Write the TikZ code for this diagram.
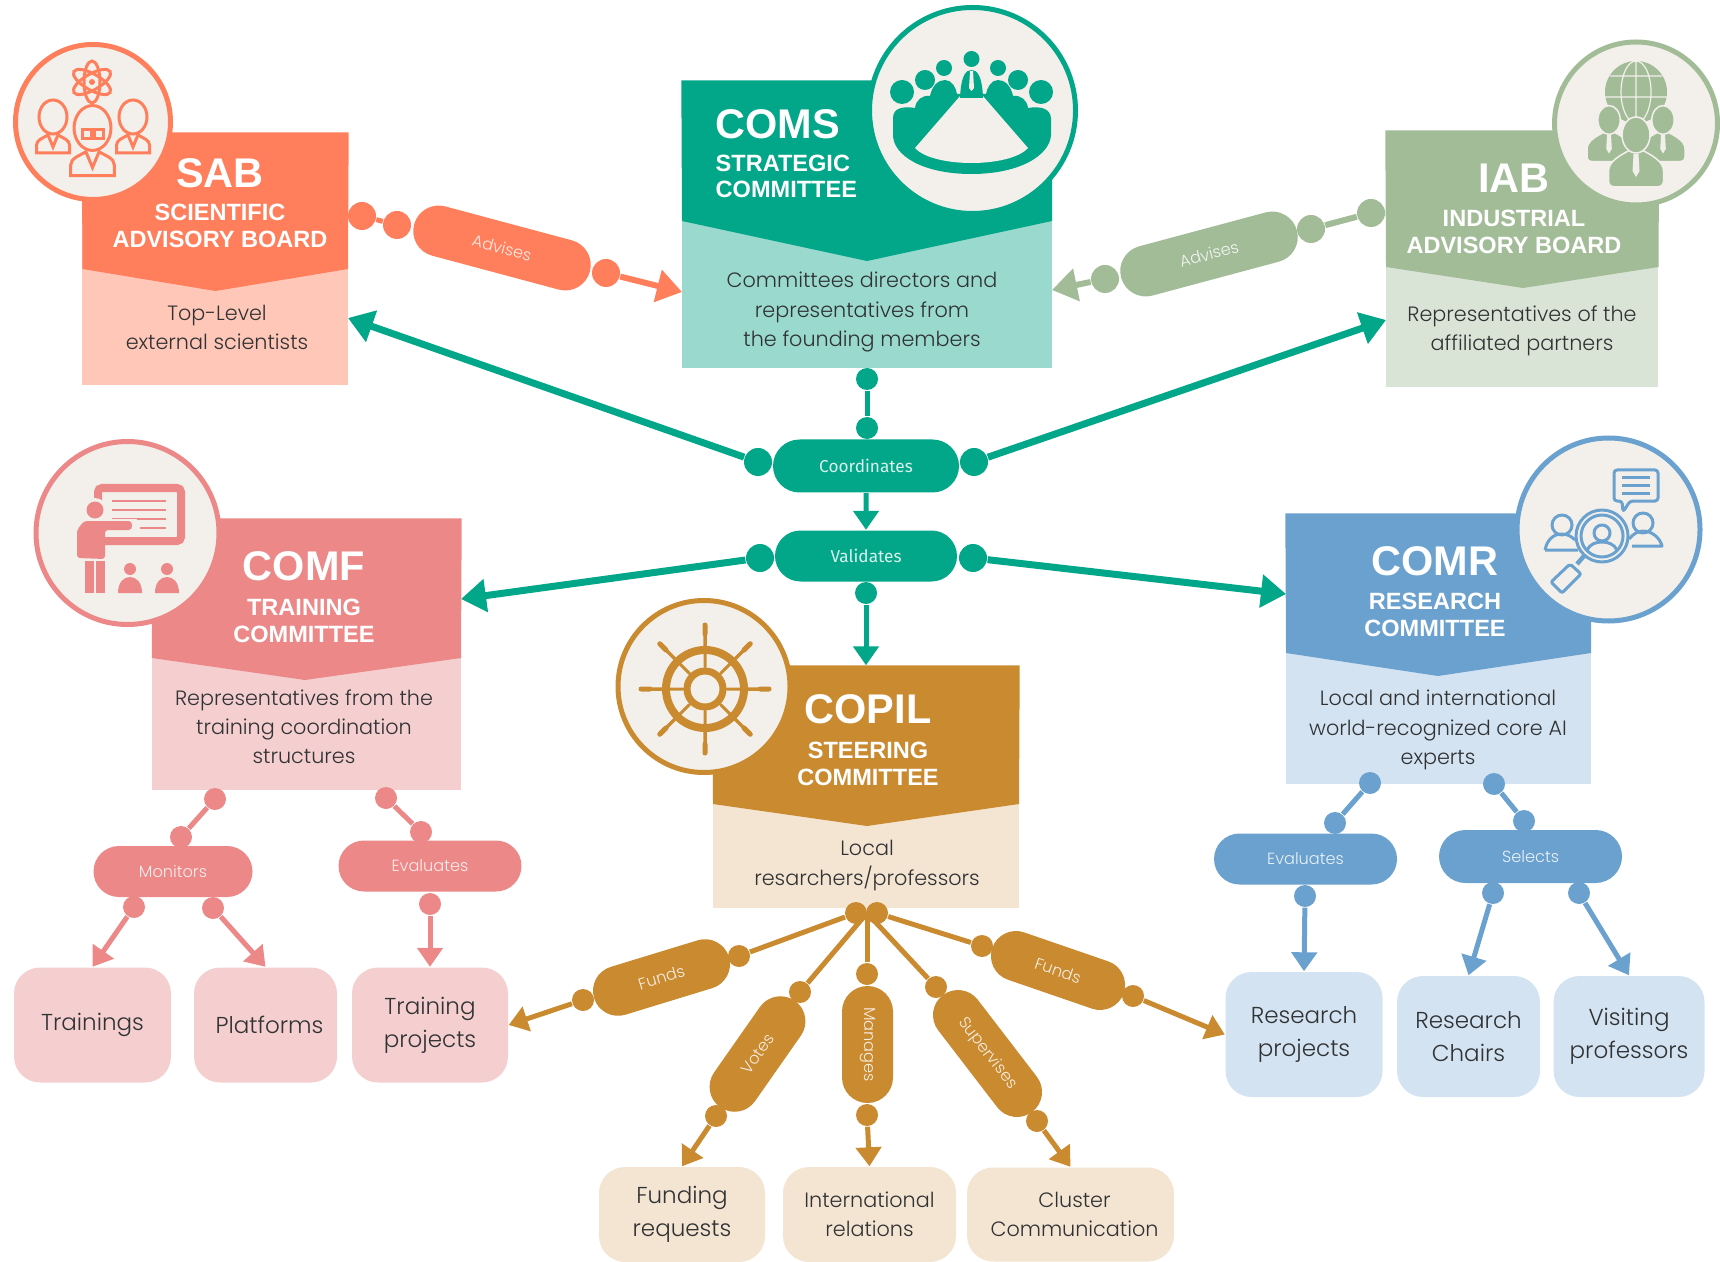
\documentclass[tikz,border=0pt]{standalone}
\usepackage{fontspec}
\usepackage{tikz}
\usetikzlibrary{arrows.meta,shapes.misc}
\setmainfont{Poppins}
\newfontfamily\bodyfont[UprightFont=* Light]{Poppins}
\newfontfamily\headfont{Liberation Sans}
\newfontfamily\dinfont{Fira Sans}
\definecolor{paper}{HTML}{F3F0EB}
\definecolor{ink}{HTML}{303234}
\definecolor{sabdark}{HTML}{FF7F5C}
\definecolor{sablight}{HTML}{FFC7B8}
\definecolor{comsdark}{HTML}{02A688}
\definecolor{comslight}{HTML}{9ADACE}
\definecolor{iabdark}{HTML}{A2BC98}
\definecolor{iablight}{HTML}{DAE4D6}
\definecolor{comfdark}{HTML}{EC8888}
\definecolor{comflight}{HTML}{F5CFCF}
\definecolor{copildark}{HTML}{C98A30}
\definecolor{copillight}{HTML}{F4E4D2}
\definecolor{comrdark}{HTML}{6AA1CE}
\definecolor{comrlight}{HTML}{D3E3F1}
\tikzset{
  panel/.style={rectangle,fill=#1,inner sep=0pt},
  badge/.style={circle,fill=paper,draw=#1,line width=.5mm,inner sep=0pt},
  bead/.style={circle,fill=#1,inner sep=0pt,minimum size=2.2mm},
  bigbead/.style={bead=#1,minimum size=2.8mm},
  pill/.style={rounded rectangle,fill=#1,text=white!85!#1,inner sep=0pt,minimum height=5.1mm,font=\bodyfont\fontsize{4.6}{6}\selectfont},
  leaf/.style={rectangle,rounded corners=2.6mm,fill=#1,text=ink,align=center,inner sep=0pt,font=\bodyfont\fontsize{6.55}{9.4}\selectfont},
  title/.style={text=white,inner sep=0pt,font=\headfont\bfseries\fontsize{11.8}{14}\selectfont},
  subtitle/.style={text=white,inner sep=0pt,align=center,font=\headfont\bfseries\fontsize{6.7}{7.6}\selectfont},
  body/.style={text=ink,inner sep=0pt,align=center,font=\bodyfont\fontsize{5.9}{8.3}\selectfont},
  link/.style={draw=#1,line width=.5mm},
  wide/.style={draw=#1,line width=.7mm},
  tip/.style={-{Triangle[length=1.9mm,width=2.5mm]}},
  bigtip/.style={-{Triangle[length=2.5mm,width=3.2mm]}},
  bust/.pic={
    \draw (0,0) ellipse [x radius=14,y radius=17];
    \draw (-16.5,36) -- (-16.5,28) .. controls (-16.5,23) and (-10,21) .. (-5,18) -- (0,30) -- (5,18) .. controls (10,21) and (16.5,23) .. (16.5,28) -- (16.5,36) -- cycle;
  },
  fbust/.pic={
    \filldraw [fill=iabdark,draw=paper,line width=.15mm] (-27.5,46) -- (-27.5,36) .. controls (-27.5,26) and (-15,20) .. (-6,15) -- (6,15) .. controls (15,20) and (27.5,26) .. (27.5,36) -- (27.5,46) .. controls (27.5,50) and (25,52) .. (20,52) -- (-20,52) .. controls (-25,52) and (-27.5,50) .. (-27.5,46) -- cycle;
    \filldraw [fill=iabdark,draw=paper,line width=.15mm] (0,0) ellipse [x radius=14,y radius=18];
    \fill [paper] (-2.5,19) -- (2.5,19) -- (3.5,36) -- (0,42) -- (-3.5,36) -- cycle;
  }
}
\begin{document}
\begin{tikzpicture}[x=.1mm,y=-.1mm]
\useasboundingbox (0,0) rectangle (1720,1261);

\node [panel=sablight,minimum width=26.55mm,minimum height=25.2mm] (sab) at (215.2,259) {};
\fill [sabdark] (sab.north west) -- (sab.north east) -- (348,269) -- (215.5,291) -- (82.5,269) -- cycle;
\node [badge=sabdark,minimum size=15.5mm] (sabbadge) at (93,122) {};
\node [title] (sabname) at (220,173) {SAB};
\node [subtitle] (sabfull) at (220,226) {SCIENTIFIC\\ADVISORY BOARD};
\node [body] (sabtext) at (217,327) {Top-Level\\external scientists};

\node [panel=comslight,minimum width=37mm,minimum height=28.7mm] (coms) at (867,224.5) {};
\fill [comsdark] (coms.north west) -- (coms.north east) -- (1052,221) -- (867,261) -- (682,221) -- cycle;
\node [badge=comsdark,minimum size=20.6mm] (comsbadge) at (972.5,110.5) {};
\node [title,anchor=west] (comsname) at (715,124) {COMS};
\node [subtitle,anchor=west,align=left] (comsfull) at (715,176.5) {STRATEGIC\\COMMITTEE};
\node [body] (comstext) at (862,312) {Committees directors and\\representatives from\\the founding members};

\node [panel=iablight,minimum width=27.25mm,minimum height=25.6mm] (iab) at (1522.2,259) {};
\fill [iabdark] (iab.north west) -- (iab.north east) -- (1658.5,267) -- (1523,288) -- (1386,267) -- cycle;
\node [badge=iabdark,minimum size=16.3mm] (iabbadge) at (1636,123.5) {};
\node [title] (iabname) at (1514,178) {IAB};
\node [subtitle] (iabfull) at (1514,232) {INDUSTRIAL\\ADVISORY BOARD};
\node [body] (iabtext) at (1522,330.5) {Representatives of the\\affiliated partners};

\node [panel=comflight,minimum width=30.9mm,minimum height=27.1mm] (comf) at (306.5,654.5) {};
\fill [comfdark] (comf.north west) -- (comf.north east) -- (461,658) -- (305,680) -- (152,658) -- cycle;
\node [badge=comfdark,minimum size=18.3mm] (comfbadge) at (127.5,533) {};
\node [title] (comfname) at (304,566) {COMF};
\node [subtitle] (comffull) at (304,621) {TRAINING\\COMMITTEE};
\node [body] (comftext) at (304,727) {Representatives from the\\training coordination\\structures};

\node [panel=copillight,minimum width=30.6mm,minimum height=24.2mm] (copil) at (866,787) {};
\fill [copildark] (copil.north west) -- (copil.north east) -- (1019,804) -- (867,826) -- (713,804) -- cycle;
\node [badge=copildark,minimum size=17.2mm] (copilbadge) at (704,686.5) {};
\node [title] (copilname) at (868,709) {COPIL};
\node [subtitle] (copilfull) at (868,764) {STEERING\\COMMITTEE};
\node [body] (copiltext) at (867,865.5) {Local\\resarchers/professors};

\node [panel=comrlight,minimum width=30.5mm,minimum height=27mm] (comr) at (1438.5,649) {};
\fill [comrdark] (comr.north west) -- (comr.north east) -- (1591,653) -- (1438,676) -- (1286,653) -- cycle;
\node [badge=comrdark,minimum size=18.3mm] (comrbadge) at (1608.5,529.5) {};
\node [title] (comrname) at (1435,561) {COMR};
\node [subtitle] (comrfull) at (1435,615) {RESEARCH\\COMMITTEE};
\node [body] (comrtext) at (1438,730) {Local and international\\world-recognized core AI\\experts};

\node [leaf=comflight,minimum width=15.7mm,minimum height=11.5mm] (trainings) at (92.5,1025) {Trainings};
\node [leaf=comflight,minimum width=14.3mm,minimum height=11.5mm] (platforms) at (265.5,1025) {\hspace*{.8mm}Platforms};
\node [leaf=comflight,minimum width=15.6mm,minimum height=11.5mm] (tprojects) at (430,1025) {Training\\projects};
\node [leaf=copillight,minimum width=16.6mm,minimum height=9.5mm] (funding) at (682,1214.5) {Funding\\requests};
\node [leaf=copillight,minimum width=17.3mm,minimum height=9.5mm,font=\bodyfont\fontsize{5.9}{8.4}\selectfont] (intl) at (869.5,1214.5) {International\\relations};
\node [leaf=copillight,minimum width=20.7mm,minimum height=9.4mm,font=\bodyfont\fontsize{5.9}{8.4}\selectfont] (cluster) at (1070.5,1214.5) {\hspace*{.8mm}Cluster\\\hspace*{.8mm}Communication};
\node [leaf=comrlight,minimum width=15.7mm,minimum height=12.5mm] (rprojects) at (1304,1034.5) {Research\\projects};
\node [leaf=comrlight,minimum width=14.3mm,minimum height=12.1mm] (chairs) at (1468.5,1036.5) {Research\\Chairs};
\node [leaf=comrlight,minimum width=15.1mm,minimum height=12.1mm] (visiting) at (1629,1036.5) {Visiting\\professors};

\coordinate (comsleft) at (682,292);
\coordinate (comsright) at (1052,290);
\coordinate (sabin) at (348,318);
\coordinate (iabin) at (1386,320);
\coordinate (comfin) at (461,599);
\coordinate (comrin) at (1286,594);
\coordinate (copilmid) at (867,913);

\node [bigbead=sabdark] (sabup) at (362,216) {};
\node [bigbead=sabdark] (sabnext) at (397,225) {};
\node [pill=sabdark,rotate=-15,minimum width=18.2mm] (sabadvises) at (502,248) {Advises};
\node [bigbead=sabdark] (sabdown) at (606,273) {};
\draw [link=sabdark] (sabup) -- (sabnext);
\draw [link=sabdark,line width=.6mm,bigtip] (sabdown) -- (comsleft);

\node [bigbead=iabdark] (iabup) at (1371,213) {};
\node [bigbead=iabdark] (iabnext) at (1311,229) {};
\node [pill=iabdark,rotate=15,minimum width=18.2mm] (iabadvises) at (1209,254) {Advises};
\node [bigbead=iabdark] (iabdown) at (1105,279) {};
\draw [link=iabdark,line width=.6mm] (iabup) -- (iabnext);
\draw [link=iabdark,line width=.6mm,bigtip] (iabdown) -- (comsright);

\node [bead=comsdark] (comsup) at (867,379) {};
\node [bead=comsdark] (comsnext) at (867,428) {};
\node [pill=comsdark,minimum width=18.6mm,minimum height=5.3mm,font=\dinfont\fontsize{4.9}{6}\selectfont] (coord) at (866,466) {Coordinates};
\node [bigbead=comsdark] (coordleft) at (758,462) {};
\node [bigbead=comsdark] (coordright) at (974,462) {};
\node [pill=comsdark,minimum width=18.2mm,font=\dinfont\fontsize{4.9}{6}\selectfont] (valid) at (866,556) {Validates};
\node [bigbead=comsdark] (validleft) at (760,558) {};
\node [bigbead=comsdark] (validright) at (973,558) {};
\node [bead=comsdark] (validdown) at (866,593) {};
\draw [link=comsdark] (comsup) -- (comsnext);
\draw [link=comsdark,tip] (coord) -- (valid);
\draw [link=comsdark,tip] (validdown) -- (copil.north);
\draw [wide=comsdark,bigtip] (coordleft) -- (sabin);
\draw [wide=comsdark,bigtip] (coordright) -- (iabin);
\draw [wide=comsdark,bigtip] (validleft) -- (comfin);
\draw [wide=comsdark,bigtip] (validright) -- (comrin);

\node [bead=comfdark] (monup) at (215,799) {};
\node [bead=comfdark] (monnext) at (181,837) {};
\node [pill=comfdark,minimum width=15.9mm] (monitors) at (173,871.5) {Monitors};
\node [bead=comfdark] (monleft) at (134,907) {};
\node [bead=comfdark] (monright) at (213,908) {};
\node [bead=comfdark] (evaup) at (386,798) {};
\node [bead=comfdark] (evanext) at (421,832) {};
\node [pill=comfdark,minimum width=18.3mm] (evaluates) at (430,866) {Evaluates};
\node [bead=comfdark] (evadown) at (430,904) {};
\draw [link=comfdark] (monup) -- (monnext);
\draw [link=comfdark,tip] (monleft) -- (trainings.north);
\draw [link=comfdark,tip] (monright) -- (platforms.north);
\draw [link=comfdark] (evaup) -- (evanext);
\draw [link=comfdark,tip] (evadown) -- (tprojects.north);

\node [bead=comrdark] (revup) at (1370,783) {};
\node [bead=comrdark] (revnext) at (1335,823) {};
\node [pill=comrdark,minimum width=18.3mm] (revaluates) at (1305.5,859) {Evaluates};
\node [bead=comrdark] (revdown) at (1305,896) {};
\node [bead=comrdark] (selup) at (1494,784) {};
\node [bead=comrdark] (selnext) at (1524,821) {};
\node [pill=comrdark,minimum width=18.3mm,minimum height=5.3mm] (selects) at (1530.5,856.5) {Selects};
\node [bead=comrdark] (selleft) at (1493,893) {};
\node [bead=comrdark] (selright) at (1579,893) {};
\draw [link=comrdark] (revup) -- (revnext);
\draw [link=comrdark,tip] (revdown) -- (rprojects.north);
\draw [link=comrdark] (selup) -- (selnext);
\draw [link=comrdark,tip] (selleft) -- (chairs.north);
\draw [link=comrdark,tip] (selright) -- (visiting.north);

\node [bead=copildark] (copilleft) at (856,913) {};
\node [bead=copildark] (copilright) at (877,913) {};
\node [bead=copildark] (flup) at (739,956) {};
\node [pill=copildark,rotate=17,minimum width=14.1mm,minimum height=5mm] (fundsleft) at (661.5,977.5) {Funds};
\node [bead=copildark] (fldown) at (583,1000) {};
\node [bead=copildark] (votup) at (800,992) {};
\node [pill=copildark,rotate=55,minimum width=13mm,minimum height=5mm] (votes) at (757.5,1054) {Votes};
\node [bead=copildark] (votdown) at (716,1116) {};
\node [bead=copildark] (manup) at (867,974) {};
\node [pill=copildark,rotate=-90,minimum width=11.7mm] (manages) at (867.5,1044.5) {Manages};
\node [bead=copildark] (mandown) at (867,1115) {};
\node [bead=copildark] (supup) at (936,987) {};
\node [pill=copildark,rotate=-52.5,minimum width=14.7mm,minimum height=5mm] (supervises) at (987.5,1053.5) {Supervises};
\node [bead=copildark] (supdown) at (1037,1121) {};
\node [bead=copildark] (frup) at (982,946) {};
\node [pill=copildark,rotate=-19,minimum width=13.9mm,minimum height=5mm] (fundsright) at (1058,970.5) {Funds};
\node [bead=copildark] (frdown) at (1133,996) {};
\draw [link=copildark] (copilleft) -- (flup);
\draw [link=copildark,tip] (fldown) -- (tprojects.east);
\draw [link=copildark] (copilmid) -- (votup);
\draw [link=copildark,tip] (votdown) -- (funding.north);
\draw [link=copildark] (copilmid) -- (manup);
\draw [link=copildark,tip] (mandown) -- (intl.north);
\draw [link=copildark] (copilmid) -- (supup);
\draw [link=copildark,tip] (supdown) -- (cluster.north);
\draw [link=copildark] (copilright) -- (frup);
\draw [link=copildark,tip] (frdown) -- (rprojects.west);

\begin{scope}[draw=sabdark,fill=sabdark,line width=.3mm]
\draw [rotate around={90:(92,82)}] (92,82) ellipse [x radius=21,y radius=8];
\draw [rotate around={30:(92,82)}] (92,82) ellipse [x radius=21,y radius=8];
\draw [rotate around={150:(92,82)}] (92,82) ellipse [x radius=21,y radius=8];
\fill (92,82) circle [radius=3];
\pic at (53,117) {bust};
\pic at (133,117) {bust};
\pic [scale=1.32] at (92.5,128) {bust};
\draw (82,130) rectangle (91,139);
\draw (94,130) rectangle (103,139);
\end{scope}

\fill [comsdark] (893,118) .. controls (893,108) and (903,106) .. (915,108) .. controls (916,100) and (922,95) .. (930,96) .. controls (932,86) and (938,80) .. (945,80) .. controls (952,80) and (956,88) .. (957,94) -- (986,94) .. controls (987,88) and (991,80) .. (998,80) .. controls (1005,80) and (1011,86) .. (1013,96) .. controls (1021,95) and (1027,100) .. (1028,108) .. controls (1040,106) and (1050,108) .. (1051,118) -- (1051,135) .. controls (1050,155) and (1020,174) .. (971.5,174) .. controls (922,174) and (893,155) .. (893,135) -- cycle;
\fill [paper] (961,95) -- (982,95) -- (1028,148) .. controls (1010,168) and (933,168) .. (915,148) -- cycle;
\fill [comsdark] (902,92) circle [radius=12] (925,80) circle [radius=10] (944,68) circle [radius=8] (971.5,59) circle [radius=8] (998,68) circle [radius=8] (1018,80) circle [radius=10] (1041,92) circle [radius=12];
\fill [comsdark] (960,98) .. controls (961,75) and (966,70) .. (971.5,70) .. controls (977,70) and (982,75) .. (983,98) -- cycle;
\fill [paper] (970,71) -- (973,71) -- (974,88) -- (971.5,91) -- (969,88) -- cycle;

\fill [iabdark] (1636,92) circle [radius=31];
\draw [paper,line width=.12mm] (1605,97) -- (1667,97) (1610,76) -- (1662,76) (1636,61) -- (1636,123) (1636,92) ellipse [x radius=15,y radius=31];
\pic [scale=.8] at (1609,120) {fbust};
\pic [scale=.8] at (1663,120) {fbust};
\pic at (1636,135) {fbust};

\begin{scope}[draw=comfdark,fill=comfdark]
\draw [line width=.8mm,rounded corners=.4mm] (98,488) rectangle (181,541);
\draw [line width=.15mm] (112,501) -- (166,501) (112,510) -- (166,510) (112,519) -- (166,519) (140,528) -- (166,528);
\fill [paper] (95,510) circle [radius=12];
\fill (95,510) circle [radius=8.5];
\fill [paper] (76,519) rectangle (137,531);
\fill [rounded corners=.3mm] (77,558) -- (77,530) -- (84,521) -- (126,521) .. controls (133,521) and (133,530) .. (126,530) -- (105,530) -- (105,559) -- cycle;
\fill (85,561) rectangle (94,593);
\fill (96,561) rectangle (105,593);
\fill (130,569) circle [radius=6] (167,569) circle [radius=6];
\fill (118,593) .. controls (118,582) and (124,577) .. (130,577) .. controls (136,577) and (142,582) .. (142,593) -- cycle;
\fill (155,593) .. controls (155,582) and (161,577) .. (167,577) .. controls (173,577) and (179,582) .. (179,593) -- cycle;
\end{scope}

\begin{scope}[shift={(705,689)},draw=copildark,line cap=round]
\draw [line width=.8mm] (0,0) circle [radius=39];
\draw [line width=.7mm] (0,0) circle [radius=18];
\draw [line width=.35mm] (0:43) -- (0:64) (45:43) -- (45:64) (90:43) -- (90:64) (135:43) -- (135:64) (180:43) -- (180:64) (225:43) -- (225:64) (270:43) -- (270:64) (315:43) -- (315:64);
\draw [line width=.5mm] (0:55) -- (0:64) (45:55) -- (45:64) (90:55) -- (90:64) (135:55) -- (135:64) (180:55) -- (180:64) (225:55) -- (225:64) (270:55) -- (270:64) (315:55) -- (315:64);
\draw [line width=.3mm] (0:22) -- (0:36) (45:22) -- (45:36) (90:22) -- (90:36) (135:22) -- (135:36) (180:22) -- (180:36) (225:22) -- (225:36) (270:22) -- (270:36) (315:22) -- (315:36);
\end{scope}

\begin{scope}[draw=comrdark,line width=.3mm,line join=round]
\draw (1562,525) circle [radius=10];
\draw (1643,523) circle [radius=10];
\draw (1545,550) .. controls (1547,540) and (1553,534) .. (1562,534) .. controls (1568,534) and (1572,537) .. (1575,540) (1545,550) -- (1578,550);
\draw (1629,539) .. controls (1633,534) and (1638,531) .. (1643,531) .. controls (1652,531) and (1660,538) .. (1662,546) -- (1632,546);
\fill [paper] (1602,536) circle [radius=26];
\draw (1602,536) circle [radius=26];
\draw (1602,536) circle [radius=21];
\draw (1602,533) circle [radius=8];
\draw (1587,550) .. controls (1590,544) and (1596,542) .. (1602,542) .. controls (1608,542) and (1614,544) .. (1617,550);
\draw [line width=.45mm] (1584,556) -- (1577,564);
\draw [rounded corners=.2mm] (1570,564) -- (1581,574) -- (1562,593) -- (1551,582) -- cycle;
\draw [rounded corners=.3mm] (1614,470) -- (1658,470) -- (1658,501) -- (1630,501) -- (1623,512) -- (1622,501) -- (1614,501) -- cycle;
\draw (1622,478) -- (1650,478) (1622,486) -- (1650,486) (1622,493) -- (1650,493);
\end{scope}
\end{tikzpicture}
\end{document}
